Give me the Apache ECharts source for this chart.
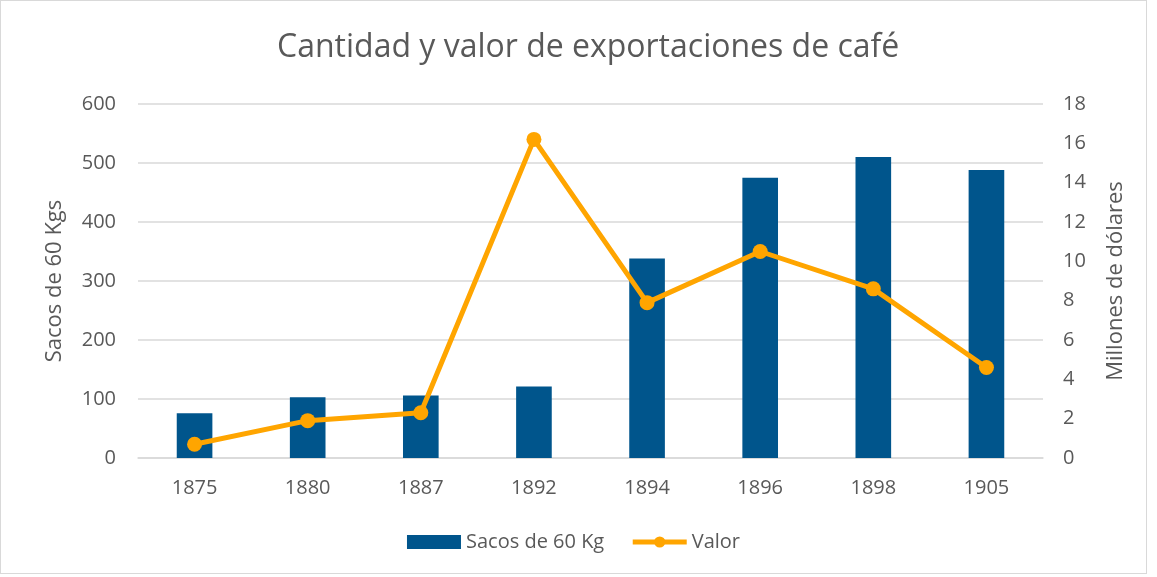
<!DOCTYPE html>
<html>
<head>
<meta charset="utf-8">
<script src="https://cdn.jsdelivr.net/npm/echarts@6/dist/echarts.min.js"></script>
<style>
  html, body { margin: 0; padding: 0; background: #fff; }
  #main { position: absolute; left: 0; top: 0; width: 1147px; height: 574px; border: 1px solid #d9d9d9; box-sizing: border-box; }
</style>
</head>
<body>
<div id="main"></div>
<script>
var years = ['1875', '1880', '1887', '1892', '1894', '1896', '1898', '1905'];
var sacos = [76, 103, 106, 121, 338, 475, 510, 488];
var valor = [0.7, 1.9, 2.3, 16.2, 7.9, 10.5, 8.6, 4.6];

var myChart = echarts.init(document.getElementById('main'));
var font = 'Open Sans, sans-serif';

var option = {
  textStyle: { fontFamily: font },
  title: {
    text: 'Cantidad y valor de exportaciones de café',
    left: 271,
    top: 26,
    textStyle: { color: '#595959', fontSize: 32, fontWeight: 'normal', fontFamily: font }
  },
  legend: {
    bottom: 16,
    left: 'center',
    itemGap: 26,
    textStyle: { color: '#595959', fontSize: 20, fontFamily: font },
    data: [
      { name: 'Sacos de 60 Kg', icon: 'rect', itemStyle: { color: '#00558c' } },
      { name: 'Valor', itemStyle: { color: '#ffa500' }, lineStyle: { width: 5, color: '#ffa500' } }
    ],
    itemWidth: 54,
    itemHeight: 14
  },
  grid: { left: 137, right: 103, top: 103, bottom: 115 },
  xAxis: {
    type: 'category',
    data: years,
    axisLine: { lineStyle: { color: '#d9d9d9', width: 1.5 } },
    axisTick: { show: false },
    axisLabel: { color: '#595959', fontSize: 20, margin: 20 }
  },
  yAxis: [
    {
      type: 'value', min: 0, max: 600, interval: 100,
      name: 'Sacos de 60 Kgs', nameLocation: 'middle', nameGap: 72, nameRotate: 90,
      nameTextStyle: { color: '#595959', fontSize: 22 },
      axisLabel: { color: '#595959', fontSize: 20, margin: 22 },
      splitLine: { lineStyle: { color: '#d9d9d9', width: 1.5 } }
    },
    {
      type: 'value', min: 0, max: 18, interval: 2,
      name: 'Millones de dólares', nameLocation: 'middle', nameGap: 62, nameRotate: 90,
      nameTextStyle: { color: '#595959', fontSize: 22 },
      axisLabel: { color: '#595959', fontSize: 20, margin: 20 },
      splitLine: { show: false }
    }
  ],
  series: [
    {
      name: 'Sacos de 60 Kg',
      type: 'bar',
      yAxisIndex: 0,
      data: sacos,
      barWidth: '31.5%',
      itemStyle: { color: '#00558c' }
    },
    {
      name: 'Valor',
      type: 'line',
      yAxisIndex: 1,
      data: valor,
      symbol: 'circle',
      symbolSize: 15,
      lineStyle: { color: '#ffa500', width: 5 },
      itemStyle: { color: '#ffa500' }
    }
  ]
};

myChart.setOption(option);
</script>
</body>
</html>
